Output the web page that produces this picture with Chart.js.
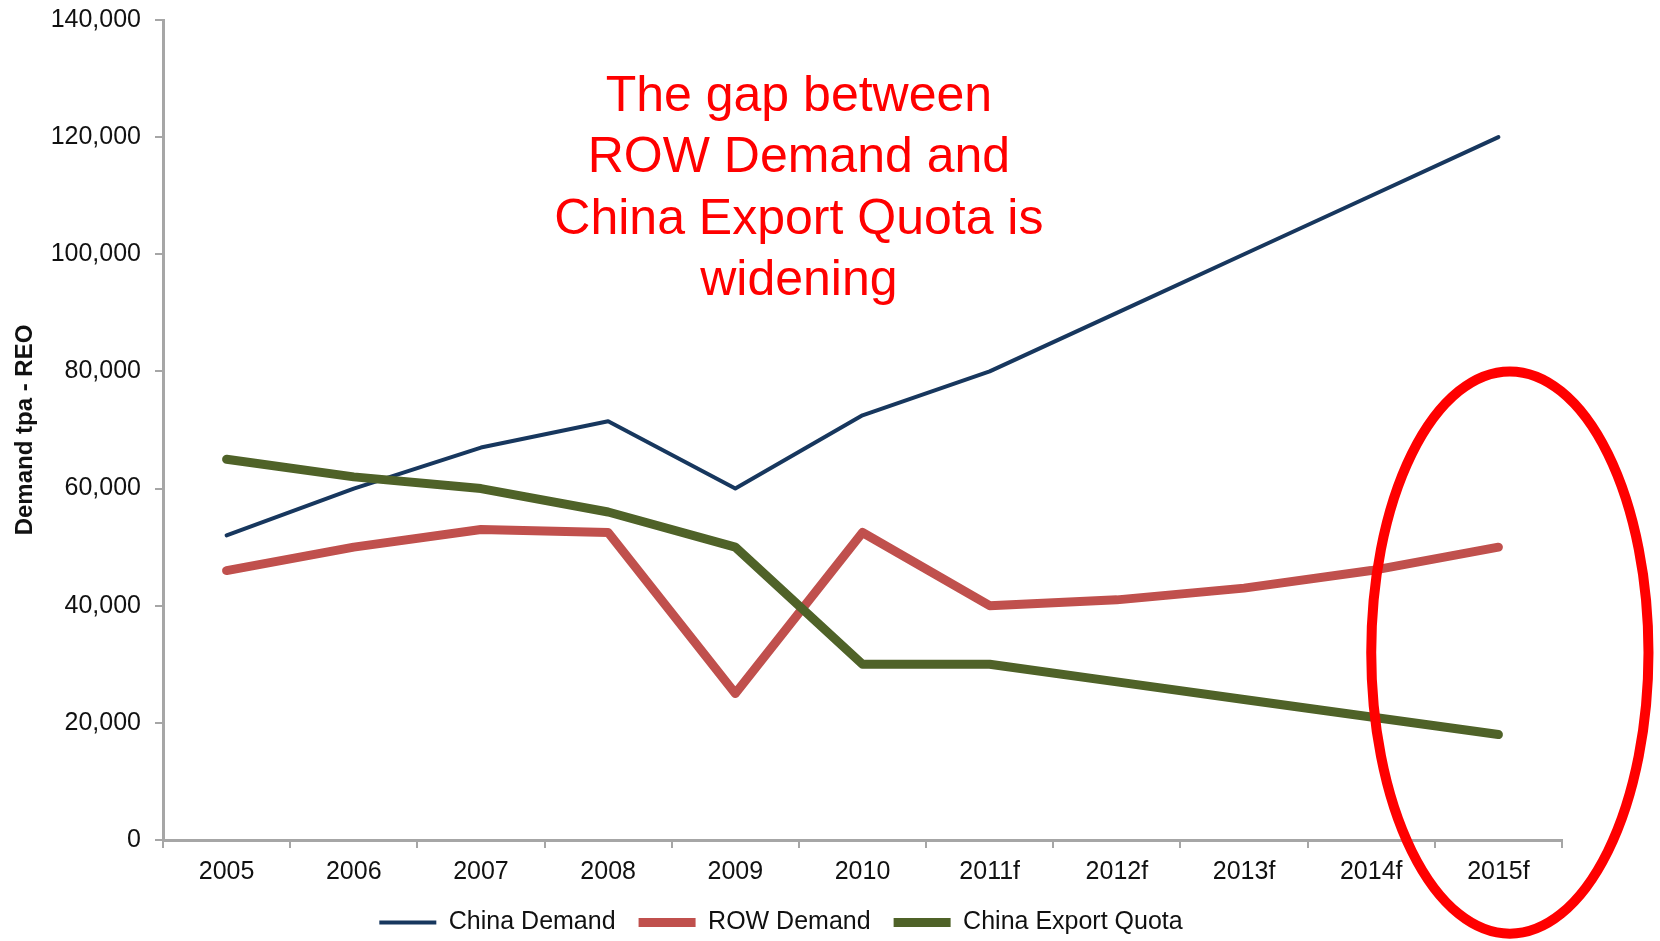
<!DOCTYPE html>
<html>
<head>
<meta charset="utf-8">
<script src="https://cdn.jsdelivr.net/npm/chart.js@4.4.0/dist/chart.umd.min.js"></script>
<style>
  html, body { margin: 0; padding: 0; background: #ffffff; }
  canvas { display: block; }
</style>
</head>
<body>
<canvas id="chart" width="1660" height="941"></canvas>
<script>
// ---- Data ----
const categories = ['2005', '2006', '2007', '2008', '2009', '2010', '2011f', '2012f', '2013f', '2014f', '2015f'];
const chinaDemand      = [52000, 60000, 67000, 71500, 60000, 72500, 80000, 90000, 100000, 110000, 120000];
const rowDemand        = [46000, 50000, 53000, 52500, 25000, 52500, 40000, 41000, 43000, 46000, 50000];
const chinaExportQuota = [65000, 62000, 60000, 56000, 50000, 30000, 30000, 27000, 24000, 21000, 18000];
const seriesNames = ['China Demand', 'ROW Demand', 'China Export Quota'];
const yMin = 0, yMax = 140000, yStep = 20000;
const yTitle = 'Demand tpa - REO';
const annotationLines = ['The gap between', 'ROW Demand and', 'China Export Quota is', 'widening'];

const FONT = "'Liberation Sans', Arial, Helvetica, sans-serif";
Chart.defaults.font.family = FONT;
Chart.defaults.color = '#111111';

const annotationPlugin = {
  id: 'annotationPlugin',
  afterDraw(chart) {
    const { ctx, chartArea, scales: { x, y } } = chart;
    ctx.save();
    // callout text, centred on the 2009/2010 boundary
    ctx.fillStyle = '#ff0000';
    ctx.font = '50px ' + FONT;
    ctx.textAlign = 'center';
    ctx.textBaseline = 'alphabetic';
    const tx = x.getPixelForValue(4.5);
    annotationLines.forEach((line, i) => {
      ctx.fillText(line, tx, chartArea.top + 91 + i * 61.3);
    });
    // red ellipse around the 2015 forecast
    const left = x.getPixelForValue(9.0);
    const right = x.getPixelForValue(11.18);
    const top = y.getPixelForValue(80000);
    const bottom = y.getPixelForValue(-16000);
    ctx.beginPath();
    ctx.ellipse((left + right) / 2, (top + bottom) / 2, (right - left) / 2, (bottom - top) / 2, 0, 0, Math.PI * 2);
    ctx.strokeStyle = '#ff0000';
    ctx.lineWidth = 10;
    ctx.stroke();
    ctx.restore();
  }
};

const axisGrey = '#a6a6a6';

new Chart(document.getElementById('chart'), {
  type: 'line',
  data: {
    labels: categories,
    datasets: [
      { label: seriesNames[0], data: chinaDemand, borderColor: '#17375e', backgroundColor: '#17375e', borderWidth: 4, order: 2 },
      { label: seriesNames[1], data: rowDemand, borderColor: '#c0504d', backgroundColor: '#c0504d', borderWidth: 9, order: 1 },
      { label: seriesNames[2], data: chinaExportQuota, borderColor: '#4f6228', backgroundColor: '#4f6228', borderWidth: 9, order: 0 }
    ].map(d => Object.assign(d, { tension: 0, pointRadius: 0, pointHoverRadius: 0, fill: false, borderCapStyle: 'round', borderJoinStyle: 'round' }))
  },
  options: {
    responsive: false,
    animation: false,
    events: [],
    layout: { padding: { left: 0, top: 20, right: 98, bottom: -4 } },
    plugins: {
      legend: {
        position: 'bottom',
        labels: {
          usePointStyle: true,
          pointStyle: 'line',
          pointStyleWidth: 57,
          padding: 23,
          color: '#111111',
          font: { size: 25 },
          sort: (a, b) => a.datasetIndex - b.datasetIndex
        }
      },
      tooltip: { enabled: false }
    },
    scales: {
      x: {
        offset: true,
        grid: { offset: true, drawOnChartArea: false, drawTicks: true, tickLength: 8, color: axisGrey, lineWidth: 2 },
        border: { color: axisGrey, width: 3 },
        ticks: { padding: 9, color: '#111111', font: { size: 25 }, maxRotation: 0, autoSkip: false },
        afterFit: s => { s.height = 47; }
      },
      y: {
        min: yMin,
        max: yMax,
        grid: { drawOnChartArea: false, drawTicks: true, tickLength: 8, color: axisGrey, lineWidth: 2 },
        border: { color: axisGrey, width: 3 },
        ticks: {
          stepSize: yStep,
          padding: 14,
          color: '#111111',
          font: { size: 25 },
          callback: v => v.toLocaleString('en-US')
        },
        title: {
          display: true,
          text: yTitle,
          color: '#111111',
          font: { size: 24, weight: 'bold' },
          padding: { top: 11, bottom: 0 }
        },
        afterFit: s => { s.width = 163; s.paddingTop = 0; s.paddingBottom = 0; }
      }
    }
  },
  plugins: [annotationPlugin]
});
</script>
</body>
</html>
